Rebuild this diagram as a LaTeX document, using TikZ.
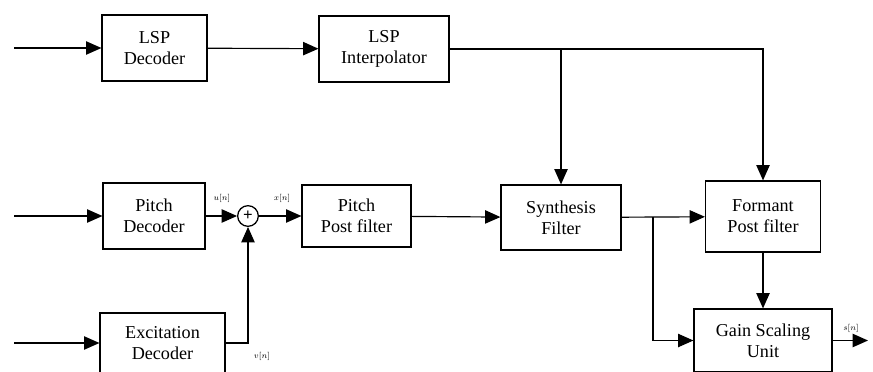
\documentclass[tikz,border=0pt]{standalone}
\usepackage{fontspec}
\setmainfont{Liberation Serif}
\usetikzlibrary{arrows.meta}
\tikzset{
  blk/.style={draw,line width=1pt,align=center,inner sep=1pt,font=\fontsize{15.5}{18}\selectfont},
  sumnode/.style={draw,circle,line width=1.1pt,minimum size=0.62cm,inner sep=0pt,font=\Large\bfseries},
  arr/.style={line width=1pt,-{Triangle[length=4.6mm,width=4mm]}},
  sig/.style={font=\scriptsize}
}
\begin{document}
\begin{tikzpicture}[x=0.03cm,y=-0.03cm]
	\useasboundingbox (0,0) rectangle (873,372);
	% blocks
	\node[blk,minimum width=3.15cm,minimum height=1.98cm] (lspdec) at (154.5,48) {LSP\\Decoder};
	\node[blk,minimum width=3.9cm,minimum height=1.98cm] (lspint) at (384,49) {LSP\\Interpolator};
	\node[blk,minimum width=3.06cm,minimum height=1.98cm] (pitchdec) at (154,216) {Pitch\\Decoder};
	\node[sumnode] (sum) at (248,216) {+};
	\node[blk,minimum width=3.27cm,minimum height=1.86cm] (ppf) at (356.5,216) {Pitch\\Post filter};
	\node[blk,minimum width=3.6cm,minimum height=1.95cm] (synth) at (561,217.5) {Synthesis\\Filter};
	\node[blk,minimum width=3.45cm,minimum height=2.13cm] (formant) at (763,216.5) {Formant\\Post filter};
	\node[blk,minimum width=3.75cm,minimum height=1.8cm] (excdec) at (162.5,343) {Excitation\\Decoder};
	\node[blk,minimum width=4.14cm,minimum height=1.89cm] (gain) at (763,340.5) {Gain Scaling\\Unit};
	% free ends
	\coordinate (in1) at (14,48);
	\coordinate (in2) at (14,216);
	\coordinate (in3) at (14,343);
	\coordinate (br) at (653,217.5);
	\coordinate (out) at (868,340.5);
	% connectors
	\draw[arr] (in1) -- (lspdec);
	\draw[arr] (in2) -- (pitchdec);
	\draw[arr] (in3) -- (excdec);
	\draw[arr] (lspdec) -- (lspint);
	\draw[arr] (lspint.east) -| (formant.north);
	\draw[arr] (lspint.east -| synth.north) -- (synth.north);
	\draw[arr] (pitchdec) -- (sum);
	\draw[arr] (excdec.east) -| (sum.south);
	\draw[arr] (sum) -- (ppf);
	\draw[arr] (ppf) -- (synth);
	\draw[arr] (synth) -- (formant);
	\draw[arr] (br) |- (gain.west);
	\draw[arr] (formant) -- (gain);
	\draw[arr] (gain) -- (out);
	% signal labels
	\node[sig] (lu) at (222,198) {$u[n]$};
	\node[sig] (lx) at (282,198) {$x[n]$};
	\node[sig] (lv) at (262,356) {$v[n]$};
	\node[sig] (ls) at (851,328) {$s[n]$};
\end{tikzpicture}
\end{document}
